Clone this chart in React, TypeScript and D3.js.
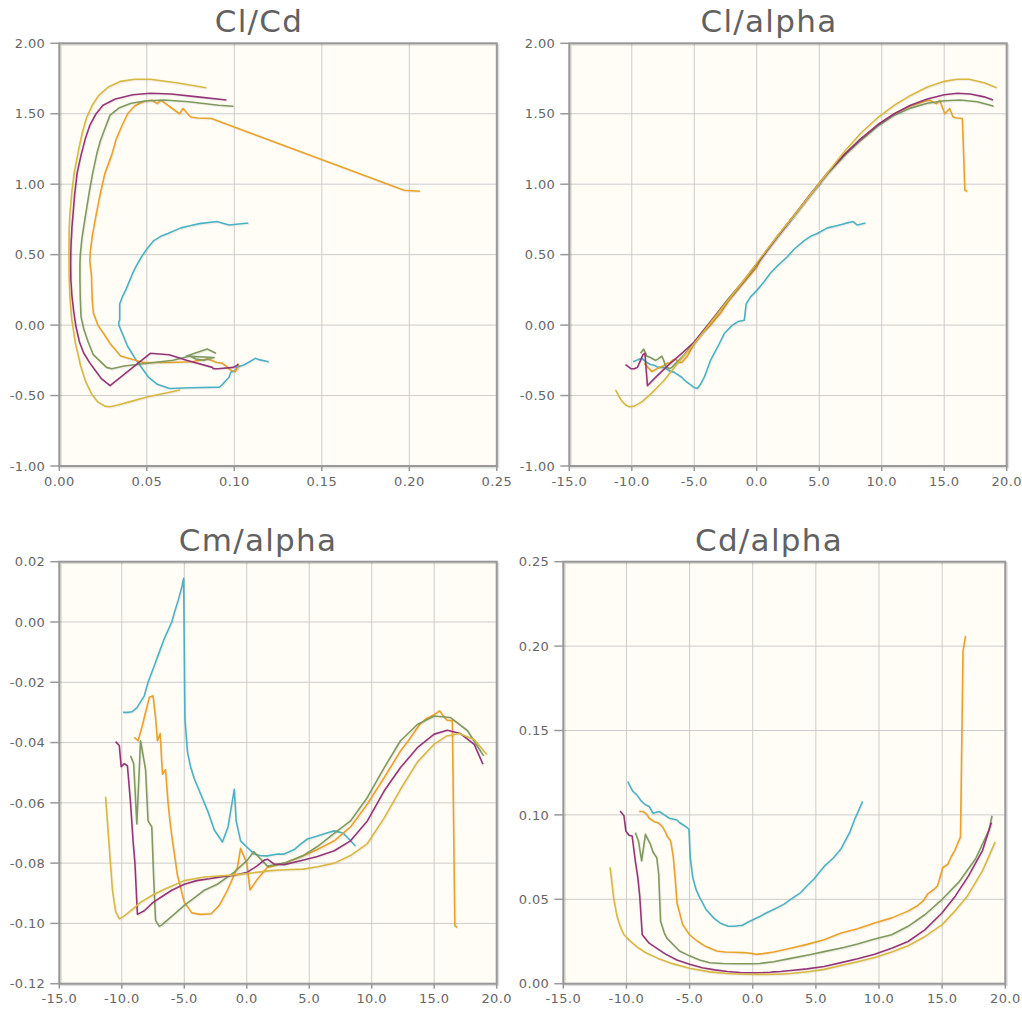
import React from 'react';
import * as d3 from 'd3';

// ---------- data ----------
const tealAlpha = [-9.9,-9.5,-9.2,-8.8,-8.5,-8.2,-7.9,-7.4,-7.0,-6.6,-6.0,-5.8,-5.5,-5.2,-5.05,-4.95,-4.75,-4.5,-4.2,-3.7,-3.1,-2.6,-1.95,-1.5,-1.0,-0.85,-0.5,0.05,0.6,1.1,1.65,2.45,3.0,3.8,4.3,4.85,5.65,6.4,7.0,7.7,8.05,8.7];
const tealCl = [-0.26,-0.245,-0.236,-0.265,-0.28,-0.285,-0.30,-0.30,-0.325,-0.335,-0.37,-0.39,-0.41,-0.43,-0.44,-0.445,-0.45,-0.42,-0.37,-0.25,-0.15,-0.06,0.0,0.025,0.035,0.15,0.20,0.25,0.31,0.37,0.42,0.485,0.54,0.60,0.63,0.65,0.69,0.705,0.72,0.735,0.71,0.725];
const tealCd = [0.1197,0.114,0.112,0.108,0.106,0.105,0.101,0.102,0.100,0.098,0.097,0.0955,0.094,0.0925,0.0915,0.075,0.063,0.056,0.051,0.044,0.039,0.036,0.034,0.034,0.0345,0.0345,0.036,0.038,0.040,0.042,0.044,0.047,0.050,0.054,0.058,0.062,0.0695,0.0746,0.080,0.090,0.097,0.108];
const tealCm = [-0.030,-0.0300,-0.0298,-0.0285,-0.0265,-0.0245,-0.020,-0.0145,-0.010,-0.0055,0.0,0.003,0.007,0.0115,0.0145,-0.032,-0.043,-0.048,-0.052,-0.057,-0.063,-0.069,-0.073,-0.068,-0.0555,-0.066,-0.0726,-0.0748,-0.077,-0.0775,-0.0776,-0.077,-0.077,-0.0755,-0.0737,-0.072,-0.071,-0.0700,-0.0693,-0.0700,-0.0715,-0.0743];

const orangeAlpha = [-9.0,-8.7,-8.4,-8.2,-7.8,-7.5,-7.3,-7.15,-6.93,-6.75,-6.5,-6.3,-6.15,-6.0,-5.55,-5.0,-4.4,-3.7,-2.85,-2.2,-1.55,-0.75,-0.5,0.0,0.26,0.8,1.65,3.0,4.3,5.65,7.0,8.3,9.65,11.0,12.3,13.0,13.5,13.84,14.37,14.64,15.04,15.44,15.7,16.0,16.45,16.65,16.85];
const orangeCl = [-0.27,-0.30,-0.33,-0.32,-0.30,-0.29,-0.28,-0.27,-0.265,-0.25,-0.24,-0.26,-0.265,-0.265,-0.22,-0.13,-0.06,0.0,0.09,0.18,0.25,0.335,0.36,0.41,0.46,0.53,0.63,0.78,0.925,1.075,1.21,1.32,1.42,1.50,1.555,1.575,1.59,1.596,1.572,1.596,1.50,1.537,1.477,1.47,1.466,0.957,0.95];
const orangeCd = [0.102,0.102,0.1005,0.098,0.096,0.0954,0.094,0.093,0.090,0.087,0.0845,0.0756,0.0628,0.048,0.035,0.029,0.0253,0.022,0.0194,0.0188,0.0186,0.0184,0.0183,0.0178,0.0174,0.0178,0.0188,0.021,0.0233,0.026,0.030,0.0325,0.036,0.039,0.043,0.046,0.049,0.053,0.056,0.058,0.0687,0.0707,0.075,0.079,0.087,0.197,0.206];
const orangeCm = [-0.0383,-0.0394,-0.035,-0.0317,-0.025,-0.0245,-0.0317,-0.0394,-0.037,-0.0505,-0.049,-0.060,-0.066,-0.071,-0.084,-0.093,-0.0965,-0.097,-0.0968,-0.094,-0.089,-0.0814,-0.0751,-0.080,-0.0889,-0.0856,-0.0814,-0.080,-0.078,-0.0755,-0.0726,-0.068,-0.0604,-0.0516,-0.0428,-0.039,-0.036,-0.034,-0.032,-0.0315,-0.0306,-0.0295,-0.031,-0.0325,-0.0328,-0.1008,-0.1013];

const greenAlpha = [-9.3,-9.05,-8.8,-8.5,-8.1,-7.9,-7.6,-7.45,-7.3,-7.0,-6.8,-5.8,-5.0,-4.2,-3.4,-2.35,-1.0,0.05,0.55,1.65,3.0,4.5,5.65,7.2,8.3,9.65,11.0,12.3,13.65,15.0,16.3,17.65,18.7,18.95];
const greenCl = [-0.20,-0.17,-0.22,-0.23,-0.25,-0.24,-0.22,-0.25,-0.29,-0.31,-0.30,-0.21,-0.12,-0.03,0.06,0.18,0.32,0.44,0.50,0.625,0.78,0.95,1.075,1.22,1.31,1.41,1.49,1.54,1.575,1.592,1.598,1.585,1.56,1.553];
const greenCd = [0.0895,0.0845,0.0727,0.0885,0.0825,0.078,0.0746,0.065,0.037,0.030,0.027,0.0194,0.0165,0.0140,0.0124,0.0120,0.0118,0.0118,0.0120,0.0130,0.0150,0.0172,0.0190,0.0215,0.0235,0.0265,0.029,0.034,0.041,0.050,0.060,0.074,0.091,0.0995];
const greenCm = [-0.0444,-0.047,-0.067,-0.0394,-0.049,-0.066,-0.068,-0.085,-0.099,-0.101,-0.1005,-0.0969,-0.094,-0.0915,-0.089,-0.087,-0.083,-0.079,-0.0762,-0.081,-0.080,-0.0775,-0.0745,-0.0695,-0.066,-0.0582,-0.0483,-0.0394,-0.034,-0.0312,-0.0317,-0.036,-0.0428,-0.0444];

const purpleAlpha = [-10.5,-10.2,-10.05,-9.8,-9.55,-9.3,-9.1,-8.95,-8.75,-8.2,-7.5,-6.9,-6.0,-5.0,-4.0,-3.0,-2.0,-1.0,0.05,0.8,1.4,1.65,2.2,3.0,4.3,5.65,7.0,8.3,9.65,11.0,12.3,13.65,15.0,16.05,17.1,18.2,18.9];
const purpleCl = [-0.28,-0.30,-0.31,-0.31,-0.30,-0.25,-0.21,-0.20,-0.43,-0.38,-0.32,-0.27,-0.20,-0.12,-0.01,0.10,0.21,0.32,0.44,0.53,0.60,0.63,0.69,0.78,0.93,1.08,1.21,1.32,1.42,1.50,1.56,1.605,1.635,1.645,1.64,1.62,1.598];
const purpleCd = [0.1023,0.0995,0.0905,0.088,0.0875,0.0727,0.0628,0.052,0.029,0.024,0.0205,0.0175,0.0140,0.0115,0.0095,0.0082,0.0072,0.0066,0.0065,0.0066,0.0068,0.0070,0.0072,0.0078,0.0088,0.0102,0.0125,0.0148,0.0175,0.021,0.025,0.032,0.042,0.052,0.064,0.079,0.0955];
const purpleCm = [-0.0397,-0.041,-0.048,-0.047,-0.0477,-0.060,-0.0726,-0.080,-0.097,-0.0958,-0.093,-0.0914,-0.089,-0.087,-0.0858,-0.0852,-0.0845,-0.084,-0.083,-0.081,-0.079,-0.0787,-0.0803,-0.0805,-0.0792,-0.0778,-0.0759,-0.0726,-0.066,-0.056,-0.0483,-0.0417,-0.0372,-0.0359,-0.037,-0.0406,-0.0472];

const yellowAlpha = [-11.3,-11.0,-10.75,-10.5,-10.2,-9.8,-9.2,-8.5,-7.5,-6.5,-5.0,-3.4,-2.0,-0.74,0.5,1.9,3.0,4.5,5.65,7.0,8.3,9.65,11.0,12.3,13.65,15.0,16.0,17.0,18.2,19.2];
const yellowCl = [-0.46,-0.51,-0.545,-0.565,-0.58,-0.575,-0.545,-0.49,-0.40,-0.29,-0.13,0.05,0.21,0.35,0.50,0.66,0.78,0.95,1.08,1.23,1.36,1.47,1.56,1.63,1.69,1.73,1.745,1.745,1.72,1.685];
const yellowCd = [0.069,0.050,0.040,0.034,0.029,0.026,0.022,0.0185,0.0150,0.0122,0.0092,0.0070,0.0060,0.0056,0.0055,0.0056,0.0060,0.0072,0.0085,0.0108,0.0130,0.0155,0.0188,0.0225,0.028,0.035,0.043,0.052,0.067,0.084];
const yellowCm = [-0.058,-0.075,-0.089,-0.096,-0.0985,-0.0975,-0.0955,-0.093,-0.0905,-0.0885,-0.0858,-0.0846,-0.0842,-0.0838,-0.0832,-0.0825,-0.0822,-0.082,-0.0812,-0.080,-0.0775,-0.0735,-0.065,-0.0555,-0.0465,-0.0405,-0.0378,-0.0370,-0.0390,-0.0440];

const seriesColors = ['#4bb2c5', '#eaa228', '#7f9a5f', '#953579', '#d8b83f'];

const clTicks = [-1.0, -0.5, 0.0, 0.5, 1.0, 1.5, 2.0];
const cdAxisTicks = [0.0, 0.05, 0.10, 0.15, 0.20, 0.25];
const alphaTicks = [-15, -10, -5, 0, 5, 10, 15, 20];
const cmTicks = [-0.12, -0.10, -0.08, -0.06, -0.04, -0.02, 0.0, 0.02];
const cdTicks = [0.0, 0.05, 0.10, 0.15, 0.20, 0.25];

// ---------- assembly ----------
type Polar = { alpha: number[]; cl: number[]; cd: number[]; cm: number[]; color: string };
const polars: Polar[] = [
  { alpha: tealAlpha, cl: tealCl, cd: tealCd, cm: tealCm, color: seriesColors[0] },
  { alpha: orangeAlpha, cl: orangeCl, cd: orangeCd, cm: orangeCm, color: seriesColors[1] },
  { alpha: greenAlpha, cl: greenCl, cd: greenCd, cm: greenCm, color: seriesColors[2] },
  { alpha: purpleAlpha, cl: purpleCl, cd: purpleCd, cm: purpleCm, color: seriesColors[3] },
  { alpha: yellowAlpha, cl: yellowCl, cd: yellowCd, cm: yellowCm, color: seriesColors[4] },
];

type Key = 'alpha' | 'cl' | 'cd' | 'cm';
interface PanelProps {
  title: string;
  titleX: number;
  titleY: number;
  left: number; right: number; top: number; bottom: number;
  xTicks: number[]; yTicks: number[];
  xDigits: number; yDigits: number;
  xKey: Key; yKey: Key;
}

const FONT = '"DejaVu Sans", Verdana, sans-serif';

function Panel(p: PanelProps) {
  const x = d3.scaleLinear().domain([p.xTicks[0], p.xTicks[p.xTicks.length - 1]]).range([p.left, p.right]);
  const y = d3.scaleLinear().domain([p.yTicks[0], p.yTicks[p.yTicks.length - 1]]).range([p.bottom, p.top]);
  const fmt = (v: number, d: number) => {
    const s = v.toFixed(d);
    return s === '-' + (0).toFixed(d) ? (0).toFixed(d) : s;
  };
  return (
    <g>
      <text x={p.titleX} y={p.titleY} textAnchor="middle" fontFamily={FONT} fontSize={31} letterSpacing={1.3} fill="#616161">{p.title}</text>
      <rect x={p.left} y={p.top} width={p.right - p.left} height={p.bottom - p.top} fill="#fffdf6" />
      {p.xTicks.map((t, i) => (
        <line key={'gx' + i} x1={x(t)} x2={x(t)} y1={p.top} y2={p.bottom} stroke="#cccccc" strokeWidth={1} />
      ))}
      {p.yTicks.map((t, i) => (
        <line key={'gy' + i} x1={p.left} x2={p.right} y1={y(t)} y2={y(t)} stroke="#cccccc" strokeWidth={1} />
      ))}
      {polars.map((s, i) => {
        const pts = s.alpha.map((_, j) => [s[p.xKey][j], s[p.yKey][j]] as [number, number]);
        const line = d3.line<[number, number]>().x(d => x(d[0])).y(d => y(d[1]));
        return (
          <g key={'s' + i}>
            <path d={line(pts) || ''} fill="none" stroke="rgba(0,0,0,0.06)" strokeWidth={2} transform="translate(1,1)" />
            <path d={line(pts) || ''} fill="none" stroke={s.color} strokeWidth={1.6} strokeLinejoin="round" />
          </g>
        );
      })}
      <rect x={p.left + 1.5} y={p.top + 1.5} width={p.right - p.left} height={p.bottom - p.top} fill="none" stroke="rgba(0,0,0,0.12)" strokeWidth={2} />
      <rect x={p.left} y={p.top} width={p.right - p.left} height={p.bottom - p.top} fill="none" stroke="#999999" strokeWidth={2} />
      {p.yTicks.map((t, i) => (
        <g key={'ty' + i}>
          <line x1={p.left - 9} x2={p.left} y1={y(t)} y2={y(t)} stroke="#999999" strokeWidth={1.5} />
          <text x={p.left - 14} y={y(t)} dy="0.36em" textAnchor="end" fontFamily={FONT} fontSize={13} letterSpacing={0.4} fill="#666666">{fmt(t, p.yDigits)}</text>
        </g>
      ))}
      {p.xTicks.map((t, i) => (
        <g key={'tx' + i}>
          <line x1={x(t)} x2={x(t)} y1={p.bottom} y2={p.bottom + 5} stroke="#999999" strokeWidth={1.5} />
          <text x={x(t)} y={p.bottom + 15} dy="0.36em" textAnchor="middle" fontFamily={FONT} fontSize={13} letterSpacing={0.4} fill="#666666">{fmt(t, p.xDigits)}</text>
        </g>
      ))}
    </g>
  );
}

export default function App() {
  return (
    <svg width={1022} height={1023} style={{ position: 'absolute', left: 0, top: 0, background: '#ffffff' }}>
      <Panel title="Cl/Cd" titleX={259} titleY={31.5} left={59.3} right={496.8} top={43.3} bottom={466}
        xTicks={cdAxisTicks} yTicks={clTicks} xDigits={2} yDigits={2} xKey="cd" yKey="cl" />
      <Panel title="Cl/alpha" titleX={769} titleY={31.5} left={569.3} right={1006.7} top={43.3} bottom={466}
        xTicks={alphaTicks} yTicks={clTicks} xDigits={1} yDigits={2} xKey="alpha" yKey="cl" />
      <Panel title="Cm/alpha" titleX={258} titleY={550.5} left={59.3} right={496.7} top={561.7} bottom={983.7}
        xTicks={alphaTicks} yTicks={cmTicks} xDigits={1} yDigits={2} xKey="alpha" yKey="cm" />
      <Panel title="Cd/alpha" titleX={769} titleY={550.5} left={563.3} right={1005.3} top={561.7} bottom={983.7}
        xTicks={alphaTicks} yTicks={cdTicks} xDigits={1} yDigits={2} xKey="alpha" yKey="cd" />
    </svg>
  );
}
